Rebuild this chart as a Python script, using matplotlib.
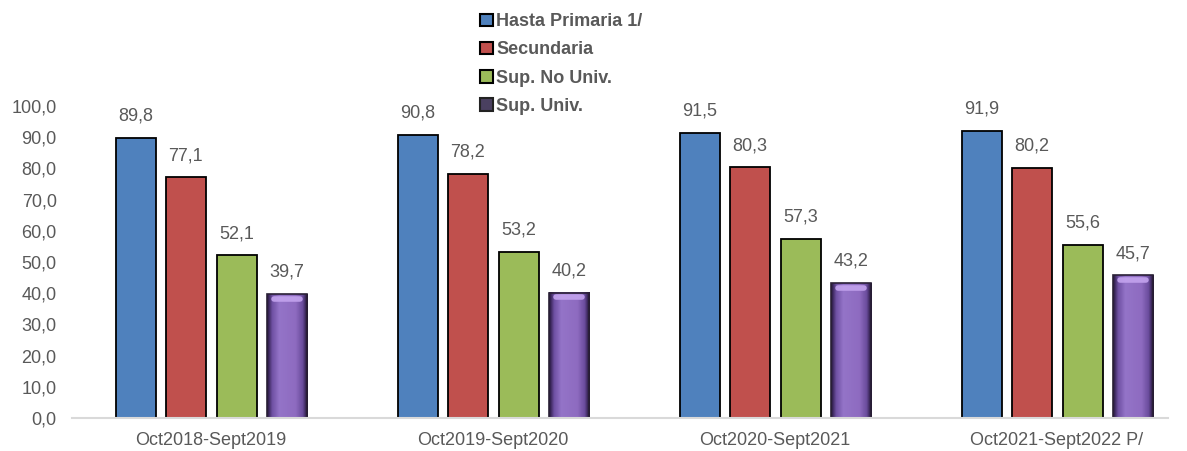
import numpy as np
import matplotlib
matplotlib.use('Agg')
from matplotlib import pyplot as plt
from matplotlib.patches import Patch
from matplotlib.colors import LinearSegmentedColormap

# Data.
periods = ['Oct2018-Sept2019', 'Oct2019-Sept2020', 'Oct2020-Sept2021', 'Oct2021-Sept2022 P/']
series_names = ['Hasta Primaria 1/', 'Secundaria', 'Sup. No Univ.', 'Sup. Univ.']
primaria = [89.8, 90.8, 91.5, 91.9]
secundaria = [77.1, 78.2, 80.3, 80.2]
sup_no_univ = [52.1, 53.2, 57.3, 55.6]
sup_univ = [39.7, 40.2, 43.2, 45.7]

colors = ['#4F81BD', '#C0504D', '#9BBB59', '#8E6BC0']
GREY = '#595959'

plt.rcParams['font.family'] = ['Liberation Sans', 'DejaVu Sans']

fig = plt.figure(figsize=(11.87, 4.51), dpi=100)
ax = fig.add_axes([72 / 1187, 1 - 418 / 451, (1168 - 72) / 1187, 312 / 451])

x = np.arange(len(periods))
offsets = [-0.266, -0.089, 0.092, 0.27]
width = 0.142
all_series = [primaria, secundaria, sup_no_univ, sup_univ]

# purple gradient for the last series (dark edges, lighter middle)
purple = LinearSegmentedColormap.from_list(
    'p', [(0, '#24163a'), (0.12, '#6f50a3'), (0.3, '#9474c8'), (0.7, '#8e6bc0'), (0.88, '#6a4c9c'), (1, '#180c28')])
grad = np.linspace(0, 1, 64).reshape(1, -1)

for i, vals in enumerate(all_series):
    if i < 3:
        bars = ax.bar(x + offsets[i], vals, width, color=colors[i], edgecolor='black', linewidth=1.3, zorder=3)
    else:
        bars = ax.bar(x + offsets[i], vals, width, color='none', edgecolor='#2a2036', linewidth=1.2, zorder=4)
        for b in bars:
            x0 = b.get_x()
            h = b.get_height()
            ax.imshow(grad, cmap=purple, aspect='auto', extent=(x0, x0 + width, 0, h), zorder=3)
            # light band near the top
            ax.plot([x0 + width * 0.18, x0 + width * 0.82], [h - 1.5, h - 1.5], color='#c3a3ee', lw=4,
                    zorder=4, solid_capstyle='round', alpha=0.9)
    for b, v in zip(bars, vals):
        ax.text(b.get_x() + width / 2, v + 4.3, f'{v:.1f}'.replace('.', ','), ha='center', va='bottom',
                fontsize=13, color=GREY, zorder=5)

ax.set_xlim(-0.493, 3.394)
ax.set_ylim(0, 100)
ax.set_yticks(np.arange(0, 101, 10))
ax.set_yticklabels([f'{v:.1f}'.replace('.', ',') for v in np.arange(0, 101, 10)])
ax.set_xticks(x)
ax.set_xticklabels(periods)
ax.tick_params(axis='both', length=0, labelsize=13, colors=GREY)
ax.tick_params(axis='x', pad=10)
ax.tick_params(axis='y', pad=11)
for s in ['top', 'right', 'left']:
    ax.spines[s].set_visible(False)
ax.spines['bottom'].set_color('#d9d9d9')
ax.spines['bottom'].set_linewidth(1.5)
ax.spines['bottom'].set_zorder(6)

handles = [Patch(facecolor=colors[0], edgecolor='black', linewidth=1.5),
           Patch(facecolor=colors[1], edgecolor='black', linewidth=1.5),
           Patch(facecolor=colors[2], edgecolor='black', linewidth=1.5),
           Patch(facecolor='#4a4060', edgecolor='#222222', linewidth=1.5)]
leg = fig.legend(handles, series_names, loc='upper left', bbox_to_anchor=(464 / 1187, 1 + 3 / 451),
                 frameon=False, handlelength=0.7, handleheight=0.7, handletextpad=0.2,
                 labelspacing=0.62, prop={'size': 13, 'weight': 'bold'})
for t in leg.get_texts():
    t.set_color(GREY)

fig.savefig('out.png', dpi=100)
